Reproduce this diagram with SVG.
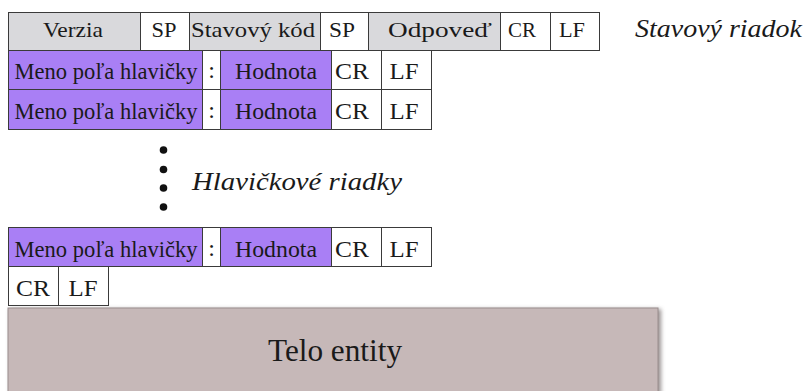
<svg xmlns="http://www.w3.org/2000/svg" width="808" height="391" viewBox="0 0 808 391">
<defs>
<style>
.c{stroke:#3a3a3a;stroke-width:1}
.g{fill:#d9d9dc}
.w{fill:#ffffff}
.p{fill:#a97ff5}
</style>
<filter id="sh" x="-5%" y="-20%" width="110%" height="140%">
<feGaussianBlur stdDeviation="2"/>
</filter>
</defs>
<rect width="808" height="391" fill="#fff"/>

<g font-family="Liberation Serif, Times New Roman, serif" fill="#1a1a1a">

<g id="status-line" font-size="22" text-anchor="middle">
<g id="verzia"><rect class="c g" x="8.5" y="12.5" width="132" height="38"/><text x="73" y="37" textLength="60" lengthAdjust="spacingAndGlyphs">Verzia</text></g>
<g id="sp1"><rect class="c w" x="140.5" y="12.5" width="49" height="38"/><text x="164" y="37" textLength="25" lengthAdjust="spacingAndGlyphs">SP</text></g>
<g id="stavovy-kod"><rect class="c g" x="189.5" y="12.5" width="131" height="38"/><text x="253" y="37" textLength="124" lengthAdjust="spacingAndGlyphs">Stavový kód</text></g>
<g id="sp2"><rect class="c w" x="320.5" y="12.5" width="48" height="38"/><text x="342" y="37" textLength="26" lengthAdjust="spacingAndGlyphs">SP</text></g>
<g id="odpoved"><rect class="c g" x="368.5" y="12.5" width="132" height="38"/><text x="440" y="37" textLength="104" lengthAdjust="spacingAndGlyphs">Odpoveď</text></g>
<g id="cr0"><rect class="c w" x="500.5" y="12.5" width="50" height="38"/><text x="522" y="37" textLength="28" lengthAdjust="spacingAndGlyphs">CR</text></g>
<g id="lf0"><rect class="c w" x="550.5" y="12.5" width="49" height="38"/><text x="572" y="37" textLength="26" lengthAdjust="spacingAndGlyphs">LF</text></g>
</g>

<g id="label-status" font-style="italic" font-size="25"><text x="635" y="37" textLength="167" lengthAdjust="spacingAndGlyphs">Stavový riadok</text></g>

<g id="header-1" font-size="24" text-anchor="middle">
<rect class="c p" x="8.5" y="50.5" width="194" height="39"/><text x="106" y="79" textLength="183" lengthAdjust="spacingAndGlyphs">Meno poľa hlavičky</text>
<rect class="c w" x="202.5" y="50.5" width="18" height="39"/><text x="211.5" y="78">:</text>
<rect class="c p" x="220.5" y="50.5" width="111" height="39"/><text x="276" y="79" textLength="82" lengthAdjust="spacingAndGlyphs">Hodnota</text>
<rect class="c w" x="331.5" y="50.5" width="50" height="39"/><text x="352" y="79" textLength="34" lengthAdjust="spacingAndGlyphs">CR</text>
<rect class="c w" x="381.5" y="50.5" width="50" height="39"/><text x="404" y="79" textLength="29" lengthAdjust="spacingAndGlyphs">LF</text>
</g>

<g id="header-2" font-size="24" text-anchor="middle">
<rect class="c p" x="8.5" y="89.5" width="194" height="40"/><text x="106" y="119" textLength="183" lengthAdjust="spacingAndGlyphs">Meno poľa hlavičky</text>
<rect class="c w" x="202.5" y="89.5" width="18" height="40"/><text x="211.5" y="118">:</text>
<rect class="c p" x="220.5" y="89.5" width="111" height="40"/><text x="276" y="119" textLength="82" lengthAdjust="spacingAndGlyphs">Hodnota</text>
<rect class="c w" x="331.5" y="89.5" width="50" height="40"/><text x="352" y="119" textLength="34" lengthAdjust="spacingAndGlyphs">CR</text>
<rect class="c w" x="381.5" y="89.5" width="50" height="40"/><text x="404" y="119" textLength="29" lengthAdjust="spacingAndGlyphs">LF</text>
</g>

<g id="ellipsis" fill="#111">
<circle cx="163.5" cy="150" r="3.8"/>
<circle cx="163.5" cy="169.5" r="3.8"/>
<circle cx="163.5" cy="188" r="3.8"/>
<circle cx="163.5" cy="207" r="3.8"/>
</g>
<g id="label-headers" font-style="italic" font-size="25"><text x="192" y="190" textLength="210" lengthAdjust="spacingAndGlyphs">Hlavičkové riadky</text></g>

<g id="header-n" font-size="24" text-anchor="middle">
<rect class="c p" x="8.5" y="227.5" width="194" height="39"/><text x="106" y="257" textLength="183" lengthAdjust="spacingAndGlyphs">Meno poľa hlavičky</text>
<rect class="c w" x="202.5" y="227.5" width="18" height="39"/><text x="211.5" y="256">:</text>
<rect class="c p" x="220.5" y="227.5" width="111" height="39"/><text x="276" y="257" textLength="82" lengthAdjust="spacingAndGlyphs">Hodnota</text>
<rect class="c w" x="331.5" y="227.5" width="50" height="39"/><text x="352" y="257" textLength="34" lengthAdjust="spacingAndGlyphs">CR</text>
<rect class="c w" x="381.5" y="227.5" width="50" height="39"/><text x="404" y="257" textLength="29" lengthAdjust="spacingAndGlyphs">LF</text>
</g>

<g id="empty-line" font-size="24" text-anchor="middle">
<rect class="c w" x="8.5" y="266.5" width="50" height="39"/><text x="33" y="296" textLength="34" lengthAdjust="spacingAndGlyphs">CR</text>
<rect class="c w" x="58.5" y="266.5" width="50" height="39"/><text x="83" y="296" textLength="29" lengthAdjust="spacingAndGlyphs">LF</text>
</g>

<g id="telo-entity" text-anchor="middle">
<rect x="10" y="309" width="651" height="90" fill="#6e6464" opacity="0.7" filter="url(#sh)"/>
<rect x="8" y="308" width="650" height="90" fill="#c6b8b8" stroke="#9a8e8e" stroke-width="1"/>
<text x="335" y="361" font-size="32" textLength="134" lengthAdjust="spacingAndGlyphs">Telo entity</text>
</g>

</g>
</svg>
